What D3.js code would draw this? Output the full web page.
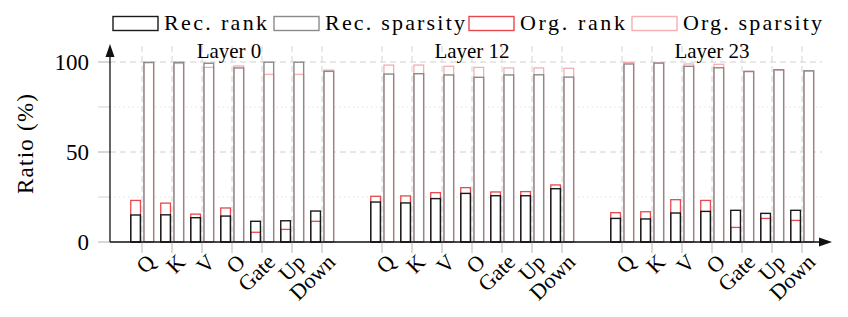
<!DOCTYPE html>
<html>
<head>
<meta charset="utf-8">
<script src="https://cdn.jsdelivr.net/npm/d3@7"></script>
</head>
<body style="margin:0">
<div id="chart"></div>
<script>
// Rank / sparsity ratios per projection, for three layers
const layers = ['Layer 0', 'Layer 12', 'Layer 23'];
const categories = ['Q', 'K', 'V', 'O', 'Gate', 'Up', 'Down'];

const recRank = [
  [15.0, 15.1, 13.5, 14.4, 11.5, 11.8, 17.2],
  [22.2, 21.7, 24.1, 27.0, 25.7, 25.7, 29.6],
  [13.1, 12.8, 16.1, 17.0, 17.6, 15.9, 17.6]
];
const orgRank = [
  [23.1, 21.6, 15.5, 18.9, 5.4, 7.0, 11.5],
  [25.4, 25.6, 27.4, 30.2, 27.8, 28.0, 31.7],
  [16.3, 16.8, 23.5, 23.1, 8.1, 13.1, 12.0]
];
const recSparsity = [
  [99.8, 99.8, 99.3, 96.7, 99.9, 99.9, 94.8],
  [93.3, 93.5, 92.8, 91.5, 92.8, 92.9, 91.6],
  [98.9, 99.4, 97.6, 96.8, 94.8, 95.7, 95.1]
];
const orgSparsity = [
  [99.6, 99.2, 97.0, 97.8, 93.1, 93.1, 95.5],
  [98.3, 98.3, 97.6, 97.0, 96.7, 96.7, 96.5],
  [99.8, 99.6, 98.9, 98.7, 94.6, 95.5, 95.0]
];
const yTicks = [0, 25, 50, 75, 100];
const yLabels = [0, 50, 100];

const legendItems = [
  { label: 'Rec. rank', color: '#1a1a1a', len: 103 },
  { label: 'Rec. sparsity', color: '#8a8a8a', len: 140 },
  { label: 'Org. rank', color: '#e5484d', len: 105 },
  { label: 'Org. sparsity', color: '#f5aeb1', len: 139 }
];

const width = 848;
const height = 317;
const FONT = 'Liberation Serif';

const svg = d3.select('#chart')
  .append('svg')
  .attr('width', width)
  .attr('height', height);

// slot index: 7 bars per layer with one empty slot between layers
const rows = [];
layers.forEach((layer, li) => {
  categories.forEach((cat, ci) => {
    rows.push({
      layer: li, cat: cat, pos: li * 8 + ci,
      recRank: recRank[li][ci], orgRank: orgRank[li][ci],
      recSp: recSparsity[li][ci], orgSp: orgSparsity[li][ci]
    });
  });
});

const x = d3.scaleLinear().domain([0, 22]).range([142, 802]);
const y = d3.scaleLinear().domain([0, 100]).range([242, 62]);
const x0 = x(-1.067);
const xEnd = 832;
const yTop = 44;
const barW = 9.7;
const rankOff = -6.4;
const spOff = 6.8;

// grid
const grid = svg.append('g');
grid.selectAll('line.v')
  .data(rows)
  .enter().append('line')
  .attr('x1', d => x(d.pos)).attr('x2', d => x(d.pos))
  .attr('y1', y(0)).attr('y2', yTop + 2)
  .attr('stroke', '#d4d4d4').attr('stroke-width', 1)
  .attr('stroke-dasharray', '6,4');
grid.selectAll('line.h')
  .data(yTicks.filter(t => t > 0))
  .enter().append('line')
  .attr('x1', x0).attr('x2', 822)
  .attr('y1', d => y(d)).attr('y2', d => y(d))
  .attr('stroke', d => d % 50 === 0 ? '#d0d0d0' : '#e2e2e2')
  .attr('stroke-width', 1)
  .attr('stroke-dasharray', d => d % 50 === 0 ? '6,4' : '1.5,3');

// tick marks
svg.append('g').selectAll('line')
  .data(yTicks)
  .enter().append('line')
  .attr('x1', x0 - 12).attr('x2', x0)
  .attr('y1', d => y(d)).attr('y2', d => y(d))
  .attr('stroke', d => d % 50 === 0 ? '#b0b0b0' : '#d0d0d0');
svg.append('g').selectAll('line')
  .data(rows)
  .enter().append('line')
  .attr('x1', d => x(d.pos)).attr('x2', d => x(d.pos))
  .attr('y1', y(0)).attr('y2', y(0) + 11)
  .attr('stroke', '#b5b5b5');

// bars: white underlay, then original outline, then reconstructed outline on top
const bars = svg.append('g');
function drawBars(off, recKey, orgKey, recColor, orgColor) {
  bars.append('g').selectAll('rect')
    .data(rows).enter().append('rect')
    .attr('x', d => x(d.pos) + off - barW / 2)
    .attr('width', barW)
    .attr('y', d => y(Math.max(d[recKey], d[orgKey])))
    .attr('height', d => y(0) - y(Math.max(d[recKey], d[orgKey])))
    .attr('fill', '#fff');
  bars.append('g').selectAll('rect')
    .data(rows).enter().append('rect')
    .attr('x', d => x(d.pos) + off - barW / 2)
    .attr('width', barW)
    .attr('y', d => y(d[orgKey]))
    .attr('height', d => y(0) - y(d[orgKey]))
    .attr('fill', 'none')
    .attr('stroke', orgColor).attr('stroke-width', 1.3);
  bars.append('g').selectAll('rect')
    .data(rows).enter().append('rect')
    .attr('x', d => x(d.pos) + off - barW / 2)
    .attr('width', barW)
    .attr('y', d => y(d[recKey]))
    .attr('height', d => y(0) - y(d[recKey]))
    .attr('fill', 'none')
    .attr('stroke', recColor).attr('stroke-width', 1.4);
}
drawBars(rankOff, 'recRank', 'orgRank', legendItems[0].color, legendItems[2].color);
drawBars(spOff, 'recSp', 'orgSp', legendItems[1].color, legendItems[3].color);

// axes with arrows
svg.append('line')
  .attr('x1', x0).attr('x2', xEnd - 12)
  .attr('y1', y(0)).attr('y2', y(0))
  .attr('stroke', '#111').attr('stroke-width', 1.3);
svg.append('path')
  .attr('d', `M${xEnd},${y(0)} L${xEnd - 13},${y(0) - 4.5} L${xEnd - 13},${y(0) + 4.5} Z`)
  .attr('fill', '#111');
svg.append('line')
  .attr('x1', x0).attr('x2', x0)
  .attr('y1', y(0)).attr('y2', yTop + 12)
  .attr('stroke', '#111').attr('stroke-width', 1.3);
svg.append('path')
  .attr('d', `M${x0},${yTop} L${x0 - 4.5},${yTop + 13} L${x0 + 4.5},${yTop + 13} Z`)
  .attr('fill', '#111');

// y tick labels
svg.append('g').selectAll('text')
  .data(yLabels)
  .enter().append('text')
  .attr('x', x0 - 21)
  .attr('y', d => y(d))
  .attr('dy', '0.35em')
  .attr('text-anchor', 'end')
  .attr('font-family', FONT)
  .attr('font-size', 23)
  .text(d => d);

// y axis title
svg.append('text')
  .attr('transform', 'translate(33,144) rotate(-90)')
  .attr('text-anchor', 'middle')
  .attr('font-family', FONT)
  .attr('font-size', 23)
  .attr('textLength', 100)
  .attr('lengthAdjust', 'spacing')
  .text('Ratio (%)');

// x tick labels, rotated 45 degrees
svg.append('g').selectAll('text')
  .data(rows)
  .enter().append('text')
  .attr('transform', d => `translate(${x(d.pos) + 9},258) rotate(-45)`)
  .attr('text-anchor', 'end')
  .attr('dy', '0.35em')
  .attr('font-family', FONT)
  .attr('font-size', 22)
  .text(d => d.cat);

// layer titles
svg.append('g').selectAll('text')
  .data(layers)
  .enter().append('text')
  .attr('x', (d, i) => x(i * 8 + 3) - (i === 0 ? 3 : 0))
  .attr('y', 58)
  .attr('text-anchor', 'middle')
  .attr('font-family', FONT)
  .attr('font-size', 21)
  .text(d => d);

// legend
const legendX = [113, 274, 469, 632];
const legend = svg.append('g');
legendItems.forEach((item, i) => {
  legend.append('rect')
    .attr('x', legendX[i]).attr('y', 16.5)
    .attr('width', 45).attr('height', 14)
    .attr('fill', '#fff')
    .attr('stroke', item.color).attr('stroke-width', 1.4);
  legend.append('text')
    .attr('x', legendX[i] + 51).attr('y', 30)
    .attr('font-family', FONT)
    .attr('font-size', 22)
    .attr('textLength', item.len)
    .attr('lengthAdjust', 'spacing')
    .text(item.label);
});
</script>
</body>
</html>
